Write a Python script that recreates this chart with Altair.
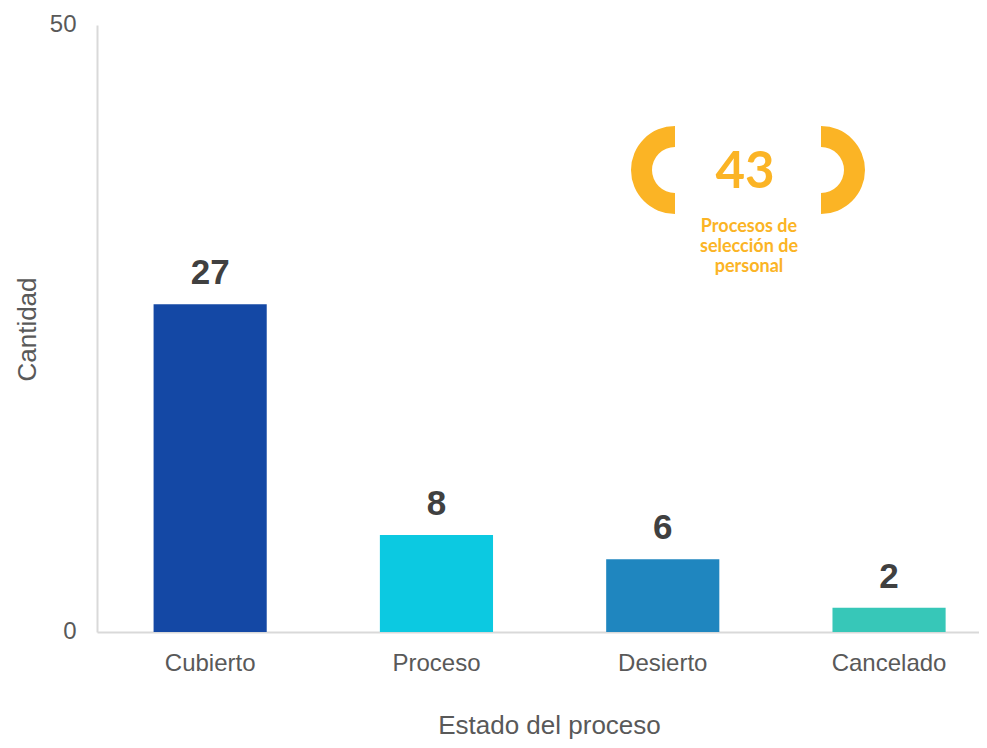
import altair as alt
import pandas as pd

# Data
estados = ["Cubierto", "Proceso", "Desierto", "Cancelado"]
cantidades = [27, 8, 6, 2]
colores = ["#1448a5", "#0cc9e1", "#1f86bf", "#37c7b8"]
total_label = ["43"]
total_caption = ["Procesos de", "selección de", "personal"]

df = pd.DataFrame({"estado": estados, "cantidad": cantidades})
one = pd.DataFrame({"k": [0]})

FONT = "Liberation Sans"
BADGE = "#fbb425"

x_enc = alt.X(
    "estado:N",
    sort=estados,
    title="Estado del proceso",
    scale=alt.Scale(paddingInner=0.5, paddingOuter=0.19875, align=0.629),
    axis=alt.Axis(
        labelAngle=0,
        labelFont=FONT,
        labelFontSize=24,
        labelColor="#595959",
        labelBaseline="alphabetic",
        labelPadding=38,
        ticks=False,
        tickSize=0,
        domainColor="#d9d9d9",
        domainWidth=2,
        titleFont=FONT,
        titleFontSize=26,
        titleFontWeight="normal",
        titleColor="#595959",
        titleBaseline="alphabetic",
        titleX=452,
        titleY=101,
        titleAnchor="middle",
    ),
)

y_enc = alt.Y(
    "cantidad:Q",
    title="Cantidad",
    scale=alt.Scale(domain=[0, 50], nice=False),
    axis=alt.Axis(
        values=[0, 50],
        grid=False,
        ticks=False,
        tickSize=0,
        labelFont=FONT,
        labelFontSize=24,
        labelColor="#595959",
        labelPadding=21,
        labelFlush=False,
        labelOffset=-1,
        domainColor="#d9d9d9",
        domainWidth=2,
        titleFont=FONT,
        titleFontSize=26,
        titleFontWeight="normal",
        titleColor="#595959",
        titleAngle=270,
        titleBaseline="alphabetic",
        titleAlign="center",
        titleX=-62,
        titleY=304,
    ),
)

bars = alt.Chart(df).mark_bar().encode(
    x=x_enc,
    y=y_enc,
    color=alt.Color("estado:N", scale=alt.Scale(domain=estados, range=colores), legend=None),
)

labels = alt.Chart(df).mark_text(
    font=FONT, fontSize=35, fontWeight="bold", color="#404040",
    baseline="alphabetic", dy=-20,
).encode(
    x=alt.X("estado:N", sort=estados),
    y="cantidad:Q",
    text="cantidad:Q",
)

left_bracket = alt.Chart(one).mark_arc(
    theta=3.14159265, theta2=6.28318531, radius=44, radius2=23, color=BADGE
).encode(x=alt.value(578), y=alt.value(145))

right_bracket = alt.Chart(one).mark_arc(
    theta=0, theta2=3.14159265, radius=44, radius2=23, color=BADGE
).encode(x=alt.value(724), y=alt.value(145))

big_num = alt.Chart(one).mark_text(
    text=total_label[0], font="Lato", fontSize=51, fontWeight="bold",
    color=BADGE, baseline="alphabetic", align="center",
).encode(x=alt.value(648), y=alt.value(163))

caption = alt.Chart(one).mark_text(
    text=total_caption, font="Lato", fontSize=18, fontWeight="bold",
    color=BADGE, baseline="alphabetic", align="center", lineHeight=20,
).encode(x=alt.value(652), y=alt.value(207))

chart = alt.layer(bars, labels, left_bracket, right_bracket, big_num, caption).properties(
    width=882,
    height=607,
    background="white",
    autosize=alt.AutoSizeParams(type="none"),
    padding={"left": 89, "top": 17, "right": 0, "bottom": 108},
).configure_view(strokeWidth=0)

chart.save("out.html", embed_options={"renderer": "svg", "actions": False})
